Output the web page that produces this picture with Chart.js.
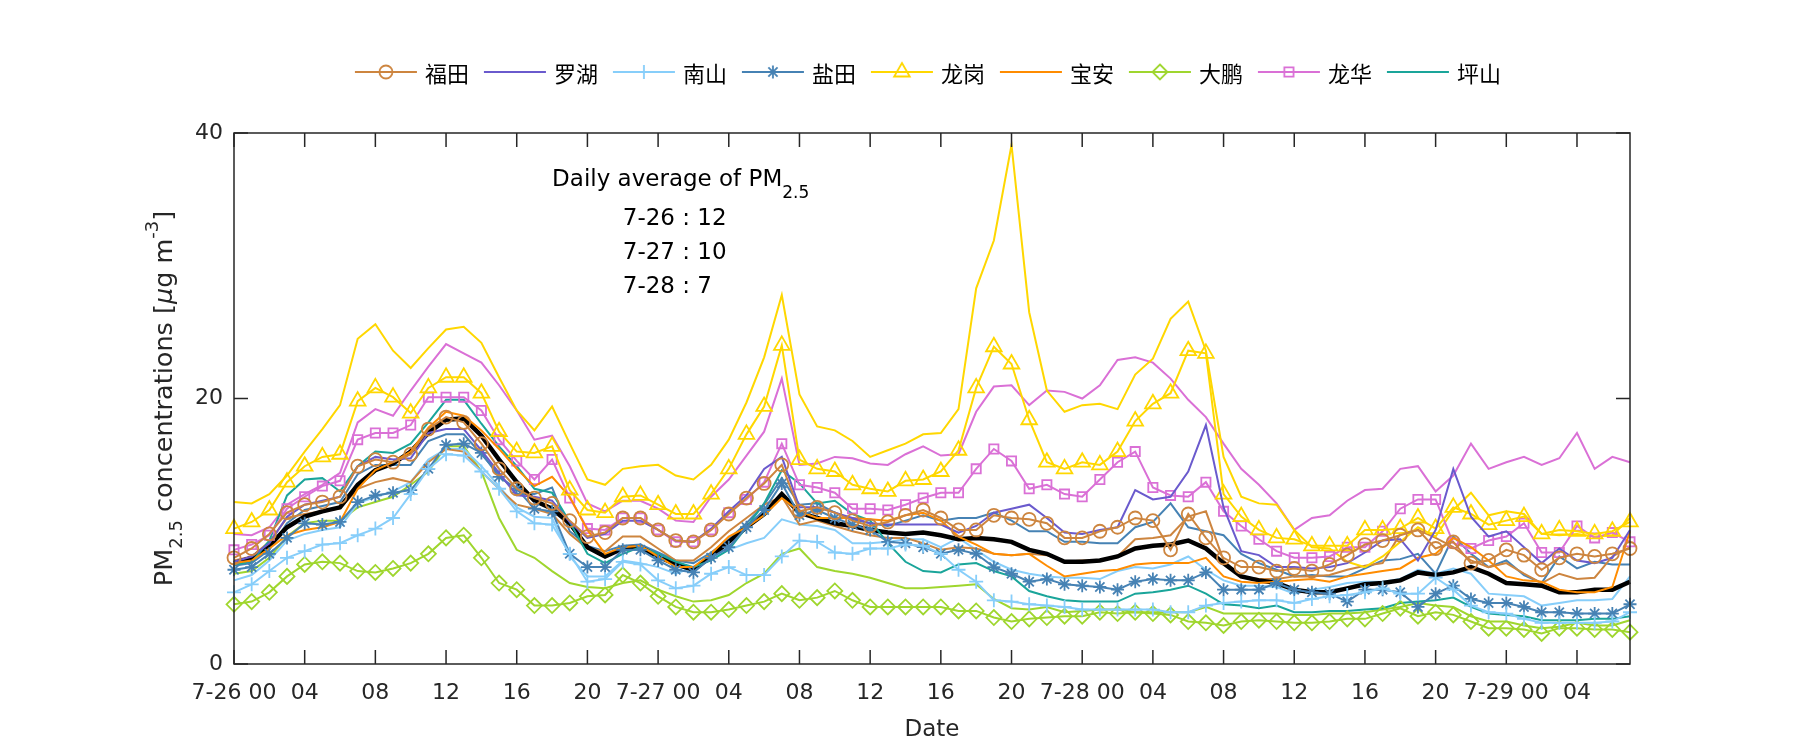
<!DOCTYPE html>
<html>
<head>
<meta charset="utf-8">
<script src="https://cdn.jsdelivr.net/npm/chart.js@4.4.0/dist/chart.umd.min.js"></script>
<style>
  body { margin: 0; background: #fff; }
  #wrap { position: relative; width: 1800px; height: 750px; }
  #legend {
    position: absolute; top: 60px; left: 928px; transform: translateX(-50%);
    display: flex; white-space: nowrap;
    font-family: "Noto Sans CJK SC", sans-serif; font-size: 22px; line-height: 24px; color: #000;
  }
  .item { display: flex; align-items: center; margin-right: 15px; }
  .item:last-child { margin-right: 0; }
  .item canvas { margin-right: 8px; }
</style>
</head>
<body>
<div id="wrap">
  <canvas id="chart" width="1800" height="750"></canvas>
  <div id="legend"></div>
</div>
<script>
// hourly PM2.5, 7-26 00 .. 7-29 07
const days = ['7-26', '7-27', '7-28', '7-29'];
const tickLabels = ['7-26 00', '04', '08', '12', '16', '20', '7-27 00', '04', '08', '12', '16', '20',
  '7-28 00', '04', '08', '12', '16', '20', '7-29 00', '04'];

const futian = [8.0, 8.7, 9.8, 11.4, 12.0, 12.2, 12.6, 14.9, 15.4, 15.2, 15.8, 17.7, 18.6, 18.2, 16.6, 14.7, 13.2,
  12.5, 12.1, 10.8, 9.6, 9.9, 11.0, 11.0, 10.1, 9.3, 9.2, 10.1, 11.3, 12.5, 13.6, 15.0, 11.5,
  11.8, 11.4, 10.8, 10.4, 10.7, 11.2, 11.6, 11.0, 10.1, 10.1, 11.2, 11.0, 10.9, 10.6, 9.5, 9.5,
  10.0, 10.3, 11.0, 10.8, 8.6, 11.3, 9.5, 8.0, 7.3, 7.3, 7.0, 7.2, 7.0, 7.5, 8.2, 9.0,
  9.3, 9.7, 10.1, 8.7, 9.2, 7.6, 7.8, 8.6, 8.2, 7.1, 8.0, 8.3, 8.1, 8.3, 8.7];
const luohu = [7.7, 8.1, 9.1, 11.1, 12.0, 12.3, 12.6, 14.9, 15.6, 15.4, 15.5, 17.4, 17.7, 17.7, 16.1, 14.4, 12.7,
  12.6, 12.3, 10.7, 9.5, 9.8, 10.8, 10.8, 10.1, 9.3, 9.2, 10.2, 11.5, 12.7, 14.7, 15.6, 11.8,
  11.8, 11.4, 11.0, 10.6, 10.5, 10.5, 10.5, 10.5, 9.9, 10.4, 11.4, 11.7, 12.0, 11.0, 9.9, 9.8,
  10.1, 10.3, 13.1, 12.4, 12.6, 14.5, 18.0, 11.8, 8.5, 8.2, 7.3, 7.3, 7.2, 7.3, 7.6, 8.4,
  9.3, 9.4, 7.8, 10.1, 14.7, 11.1, 9.6, 10.0, 8.8, 7.6, 8.7, 7.8, 7.6, 8.0, 10.1];
const nanshan = [5.4, 6.0, 7.0, 8.0, 8.5, 9.0, 9.1, 9.7, 10.2, 11.0, 12.8, 14.7, 15.8, 15.7, 14.5, 13.2, 11.5,
  10.6, 10.5, 8.3, 6.2, 6.4, 7.7, 7.5, 6.3, 5.7, 5.9, 6.8, 7.3, 6.7, 6.7, 8.1, 9.3,
  9.2, 8.4, 8.3, 8.7, 8.7, 9.0, 8.9, 8.3, 7.1, 6.2, 4.8, 4.7, 4.5, 4.4, 4.3, 4.1,
  4.1, 4.1, 4.1, 4.1, 3.9, 3.9, 4.4, 4.6, 4.7, 4.8, 4.8, 4.6, 4.9, 5.1, 5.2, 5.4,
  5.7, 5.3, 5.3, 6.5, 5.6, 4.4, 3.9, 3.8, 3.4, 3.1, 3.1, 3.1, 3.1, 3.2, 3.9];
const yantian = [7.1, 7.3, 8.3, 9.5, 10.6, 10.5, 10.7, 12.2, 12.7, 12.9, 13.1, 14.7, 16.5, 16.6, 15.9, 14.1, 13.2,
  11.7, 11.5, 8.3, 7.3, 7.3, 8.6, 8.6, 7.8, 7.1, 6.9, 8.0, 8.8, 10.3, 11.6, 13.6, 11.2,
  11.6, 11.0, 10.5, 10.1, 9.2, 9.1, 8.8, 8.3, 8.6, 8.3, 7.3, 6.8, 6.2, 6.4, 6.0, 5.9,
  5.8, 5.6, 6.2, 6.4, 6.3, 6.3, 6.9, 5.6, 5.6, 5.6, 6.1, 5.6, 5.4, 5.3, 4.7, 5.6,
  5.6, 5.4, 4.3, 5.3, 5.9, 4.9, 4.6, 4.6, 4.3, 3.9, 3.9, 3.8, 3.8, 3.8, 4.5];
const longgang = [10.2, 10.7, 11.6, 13.7, 14.9, 15.6, 15.8, 19.8, 20.8, 20.1, 18.9, 20.8, 21.6, 21.6, 20.4, 17.5, 16.0,
  15.9, 16.4, 13.1, 11.6, 11.4, 12.6, 12.7, 12.0, 11.3, 11.3, 12.8, 14.7, 17.3, 19.4, 24.0, 15.4,
  14.7, 14.5, 13.5, 13.2, 13.0, 13.8, 13.9, 14.5, 16.1, 20.8, 23.9, 22.6, 18.4, 15.2, 14.7, 15.2,
  15.0, 16.0, 18.3, 19.6, 20.4, 23.6, 23.4, 12.8, 11.1, 10.1, 9.5, 9.4, 8.9, 8.9, 8.9, 10.1,
  10.1, 10.2, 11.0, 10.2, 11.8, 11.3, 10.5, 10.8, 11.1, 9.8, 10.1, 10.0, 9.8, 10.0, 10.7];
const baoan = [7.6, 7.8, 8.7, 9.7, 10.1, 10.3, 10.7, 13.2, 14.6, 15.2, 16.0, 17.8, 19.0, 18.7, 17.6, 16.2, 14.7,
  13.4, 14.1, 12.6, 10.1, 8.3, 8.8, 8.9, 8.1, 7.3, 7.3, 8.3, 9.6, 10.3, 11.2, 12.5, 11.5,
  11.0, 11.0, 11.0, 10.9, 10.8, 11.2, 11.4, 10.8, 9.6, 9.0, 8.3, 8.2, 8.3, 7.4, 6.6, 6.8,
  7.0, 7.1, 7.5, 7.6, 7.6, 7.6, 8.0, 6.6, 6.2, 6.1, 6.2, 6.3, 6.4, 6.2, 6.6, 6.8,
  7.0, 7.2, 8.0, 8.3, 9.5, 8.8, 7.8, 6.6, 6.3, 6.2, 5.6, 5.4, 5.4, 5.8, 10.0];
const dapeng = [4.5, 4.7, 5.4, 6.6, 7.5, 7.7, 7.6, 7.0, 6.9, 7.2, 7.6, 8.3, 9.5, 9.7, 8.0, 6.1, 5.6,
  4.4, 4.4, 4.6, 5.1, 5.2, 6.7, 6.1, 5.1, 4.3, 3.9, 3.9, 4.1, 4.4, 4.7, 5.3, 4.8,
  5.0, 5.5, 4.8, 4.3, 4.3, 4.3, 4.3, 4.3, 4.0, 4.0, 3.5, 3.2, 3.4, 3.5, 3.6, 3.6,
  3.9, 3.8, 3.9, 3.8, 3.7, 3.2, 3.1, 2.9, 3.2, 3.3, 3.2, 3.1, 3.1, 3.2, 3.4, 3.4,
  3.8, 4.2, 3.6, 3.9, 3.7, 3.2, 2.7, 2.7, 2.6, 2.3, 2.7, 2.7, 2.6, 2.6, 2.4];
const longhua = [8.6, 9.0, 9.7, 11.7, 12.6, 13.4, 13.8, 16.9, 17.4, 17.4, 18.0, 20.1, 20.1, 20.1, 19.1, 16.9, 15.3,
  13.9, 15.4, 12.5, 10.2, 10.1, 11.0, 11.0, 10.1, 9.2, 9.2, 10.1, 11.4, 12.4, 13.7, 16.6, 13.5,
  13.3, 12.9, 11.7, 11.7, 11.6, 12.0, 12.5, 12.9, 12.9, 14.7, 16.2, 15.3, 13.2, 13.5, 12.8, 12.6,
  13.9, 15.2, 16.0, 13.3, 12.7, 12.6, 13.7, 11.5, 10.4, 9.4, 8.5, 8.0, 8.0, 8.1, 8.8, 8.8,
  10.0, 11.7, 12.4, 12.4, 9.1, 8.7, 9.3, 9.6, 10.6, 8.4, 8.4, 10.4, 9.5, 9.9, 9.2];
const pingshan = [7.5, 7.7, 9.3, 12.7, 13.9, 14.0, 13.0, 14.9, 16.0, 15.9, 16.6, 18.2, 19.9, 19.9, 18.1, 16.4, 14.9,
  13.2, 12.9, 10.7, 8.3, 7.6, 8.3, 8.8, 8.3, 7.7, 7.3, 7.8, 8.6, 10.3, 12.1, 14.6, 13.6,
  12.1, 12.3, 11.3, 10.8, 9.1, 7.7, 7.0, 6.9, 7.5, 7.6, 7.0, 6.6, 5.5, 5.1, 4.8, 4.7,
  4.7, 4.7, 5.3, 5.4, 5.6, 5.9, 5.3, 4.5, 4.4, 4.2, 4.4, 3.9, 3.9, 4.0, 4.0, 4.1,
  4.2, 4.6, 4.7, 4.8, 5.0, 4.3, 3.8, 3.7, 3.6, 3.3, 3.3, 3.3, 3.4, 3.4, 3.6];
const average = [7.6, 8.0, 8.9, 10.3, 11.1, 11.5, 11.8, 13.5, 14.6, 15.1, 16.0, 17.4, 18.4, 18.5, 17.2, 15.4, 13.7,
  12.3, 11.7, 10.6, 8.8, 8.1, 8.7, 8.8, 8.1, 7.5, 7.1, 8.1, 9.2, 10.3, 11.3, 12.8, 11.4,
  11.0, 10.6, 10.4, 10.1, 9.9, 9.8, 9.9, 9.7, 9.4, 9.5, 9.4, 9.2, 8.6, 8.3, 7.7, 7.7,
  7.8, 8.1, 8.7, 8.9, 9.0, 9.3, 8.7, 7.6, 6.6, 6.3, 6.1, 5.6, 5.4, 5.4, 5.7, 6.0,
  6.1, 6.3, 6.9, 6.7, 6.9, 7.3, 6.8, 6.1, 6.0, 5.9, 5.4, 5.4, 5.6, 5.6, 6.2];

// second, unmarked line of some districts
const longgangB = [12.2, 12.1, 12.8, 14.2, 16.0, 17.7, 19.5, 24.5, 25.6, 23.6, 22.3, 23.8, 25.2, 25.4, 24.2, 21.6, 19.1,
  17.6, 19.4, 16.6, 13.9, 13.5, 14.7, 14.9, 15.0, 14.2, 13.9, 15.0, 16.9, 19.7, 23.1, 27.8, 20.3,
  17.9, 17.6, 16.8, 15.6, 16.1, 16.6, 17.3, 17.4, 19.2, 28.3, 31.9, 39.1, 26.5, 20.6, 19.0, 19.5,
  19.6, 19.2, 21.8, 23.0, 26.0, 27.3, 23.6, 15.6, 12.6, 12.1, 12.0, 10.1, 8.8, 8.7, 7.7, 7.3,
  8.1, 9.2, 10.3, 9.6, 11.6, 12.9, 11.2, 11.5, 11.3, 9.8, 9.7, 9.8, 9.6, 9.7, 11.0];
const longhuaB = [9.8, 9.7, 10.3, 12.0, 12.8, 13.5, 14.4, 18.2, 19.2, 18.7, 20.6, 22.4, 24.1, 23.4, 22.7, 21.0, 19.1,
  16.9, 17.2, 14.9, 12.1, 11.5, 12.3, 12.3, 11.7, 10.8, 10.7, 12.6, 13.9, 15.7, 17.5, 21.5, 15.0,
  15.1, 15.6, 15.5, 15.1, 15.0, 15.8, 16.4, 15.7, 15.8, 19.0, 20.9, 21.0, 19.5, 20.6, 20.5, 20.0,
  21.0, 22.9, 23.1, 22.7, 21.5, 19.9, 18.6, 16.6, 14.7, 13.5, 12.1, 10.1, 11.0, 11.2, 12.3, 13.1,
  13.2, 14.7, 14.9, 13.0, 14.2, 16.6, 14.7, 15.2, 15.6, 15.0, 15.5, 17.4, 14.7, 15.6, 15.2];
const futianB = [7.8, 8.1, 9.2, 11.0, 11.3, 11.5, 11.7, 13.2, 13.7, 14.0, 13.7, 15.2, 16.2, 16.0, 14.5, 13.2, 12.0,
  11.7, 11.3, 9.8, 8.7, 8.5, 9.6, 9.6, 8.7, 7.8, 7.8, 8.8, 10.0, 11.0, 12.0, 12.6, 10.5,
  10.8, 10.4, 10.0, 9.7, 9.5, 9.5, 9.1, 8.6, 8.8, 8.7, 8.3, 8.2, 8.3, 8.2, 7.7, 7.8,
  7.8, 8.1, 9.4, 9.5, 9.7, 11.1, 11.5, 7.8, 6.6, 6.4, 6.4, 6.6, 6.6, 6.7, 7.1, 7.4,
  7.6, 9.8, 10.1, 9.5, 8.8, 7.8, 7.3, 7.6, 6.8, 6.1, 6.8, 6.4, 6.5, 8.1, 8.8];
const yantianB = [7.4, 7.6, 8.6, 10.6, 11.6, 11.9, 12.2, 14.3, 15.0, 15.0, 15.0, 16.8, 17.3, 17.3, 15.8, 14.3, 12.8,
  12.8, 13.3, 10.0, 8.9, 8.5, 8.9, 9.0, 8.4, 7.8, 7.6, 8.4, 9.4, 10.6, 12.0, 14.0, 12.0,
  12.1, 11.4, 10.9, 10.6, 10.4, 10.8, 11.2, 10.8, 11.0, 11.0, 11.4, 10.8, 10.0, 10.0, 9.2, 9.2,
  9.1, 9.1, 10.3, 10.7, 12.1, 10.3, 10.0, 9.7, 8.3, 7.6, 7.1, 6.6, 6.7, 6.6, 6.6, 7.2,
  7.8, 7.9, 8.3, 6.8, 9.6, 8.3, 7.3, 7.8, 6.7, 6.1, 8.1, 7.2, 7.7, 7.5, 7.5];
const nanshanB = [6.3, 6.7, 7.8, 9.3, 9.8, 10.1, 10.3, 12.1, 12.6, 13.0, 13.7, 15.4, 16.2, 16.2, 14.9, 13.4, 11.8,
  11.1, 11.0, 8.1, 6.6, 6.6, 7.8, 7.6, 7.3, 6.8, 7.3, 8.0, 8.6, 9.1, 9.5, 10.9, 10.5,
  10.4, 10.1, 9.1, 9.1, 9.2, 9.4, 9.4, 8.8, 9.5, 8.6, 7.7, 7.1, 6.8, 6.6, 6.5, 6.5,
  6.4, 7.0, 7.3, 7.2, 7.5, 8.1, 7.1, 6.3, 5.9, 5.9, 5.8, 5.3, 5.6, 5.8, 6.1, 6.2,
  6.2, 6.4, 7.1, 6.8, 7.2, 6.8, 5.3, 5.2, 5.1, 4.4, 4.6, 4.8, 4.8, 4.9, 6.6];
const dapengB = [6.8, 7.0, 8.0, 9.6, 10.6, 10.8, 10.8, 11.8, 12.2, 12.6, 13.5, 14.5, 16.4, 16.4, 14.5, 11.0, 8.6,
  8.0, 7.0, 6.1, 5.8, 5.7, 6.1, 6.3, 5.6, 5.1, 4.7, 4.8, 5.2, 6.1, 6.8, 8.3, 8.7,
  7.3, 7.0, 6.8, 6.5, 6.1, 5.7, 5.7, 5.8, 5.9, 6.0, 4.9, 4.2, 4.1, 4.3, 3.9, 4.0,
  4.1, 4.1, 3.9, 3.9, 3.9, 3.9, 4.3, 3.8, 3.8, 3.8, 3.8, 3.7, 3.7, 3.8, 3.8, 3.9,
  4.1, 4.3, 4.6, 4.4, 4.3, 3.6, 3.2, 3.2, 2.9, 2.7, 2.8, 3.1, 2.9, 2.9, 3.3];

const dailyDates = ['7-26', '7-27', '7-28'];
const dailyAvg = [12, 10, 7];

// category labels, one per hour
const timeLabels = [];
days.forEach(d => {
  for (let h = 0; h < 24 && timeLabels.length < futian.length; h++) {
    timeLabels.push(d + ' ' + String(h).padStart(2, '0'));
  }
});

const FONT = '"DejaVu Sans", sans-serif';
const AXIS = '#262626';

const districts = [
  { label: '福田', data: futian, color: '#CD853F', marker: 'circle', r: 6.5 },
  { label: '罗湖', data: luohu, color: '#6A5ACD' },
  { label: '南山', data: nanshan, color: '#87CEFA', marker: 'cross', r: 7 },
  { label: '盐田', data: yantian, color: '#4682B4', marker: 'star', r: 6.5 },
  { label: '龙岗', data: longgang, color: '#FFD700', marker: 'triangle', r: 9 },
  { label: '宝安', data: baoan, color: '#FF8C00' },
  { label: '大鹏', data: dapeng, color: '#9FD62E', marker: 'rectRot', r: 7.5 },
  { label: '龙华', data: longhua, color: '#DA70D6', marker: 'rect', r: 6.5 },
  { label: '坪山', data: pingshan, color: '#1AA59A' }
];
const extras = [
  { data: longgangB, color: '#FFD700' },
  { data: longhuaB, color: '#DA70D6' },
  { data: futianB, color: '#CD853F' },
  { data: yantianB, color: '#4682B4' },
  { data: nanshanB, color: '#87CEFA' },
  { data: dapengB, color: '#9FD62E' }
];

const datasets = [];
districts.forEach(d => datasets.push({
  label: d.label, data: d.data, order: 0, clip: false,
  borderColor: d.color, borderWidth: 2, tension: 0,
  pointStyle: d.marker || 'circle', pointRadius: d.marker ? d.r : 0,
  pointBorderColor: d.color, pointBackgroundColor: 'rgba(0,0,0,0)', pointBorderWidth: 1.8
}));
datasets.push({ label: 'avg', data: average, order: 1, borderColor: '#000', borderWidth: 4.5, pointRadius: 0, tension: 0 });
extras.forEach(e => datasets.push({
  label: '', data: e.data, order: 2, borderColor: e.color, borderWidth: 2, pointRadius: 0, tension: 0
}));

function drawMarker(g, style, x, y, r, color) {
  g.save();
  g.strokeStyle = color;
  g.lineWidth = 1.8;
  g.beginPath();
  if (style === 'circle') {
    g.arc(x, y, r, 0, Math.PI * 2);
  } else if (style === 'triangle') {
    for (let k = 0; k < 3; k++) {
      const a = k * 2 * Math.PI / 3;
      const px = x + Math.sin(a) * r, py = y - Math.cos(a) * r;
      k ? g.lineTo(px, py) : g.moveTo(px, py);
    }
    g.closePath();
  } else if (style === 'rect') {
    const s = r * Math.SQRT1_2;
    g.rect(x - s, y - s, 2 * s, 2 * s);
  } else if (style === 'rectRot') {
    g.moveTo(x, y - r); g.lineTo(x + r, y); g.lineTo(x, y + r); g.lineTo(x - r, y); g.closePath();
  } else {
    g.moveTo(x - r, y); g.lineTo(x + r, y); g.moveTo(x, y - r); g.lineTo(x, y + r);
    if (style === 'star') {
      const o = r * Math.SQRT1_2;
      g.moveTo(x - o, y - o); g.lineTo(x + o, y + o); g.moveTo(x - o, y + o); g.lineTo(x + o, y - o);
    }
  }
  g.stroke();
  g.restore();
}

// legend (line sample + marker + name)
const legendEl = document.getElementById('legend');
districts.forEach(d => {
  const item = document.createElement('div');
  item.className = 'item';
  const c = document.createElement('canvas');
  c.width = 62; c.height = 24;
  const g = c.getContext('2d');
  g.strokeStyle = d.color; g.lineWidth = 2;
  g.beginPath(); g.moveTo(0, 12); g.lineTo(62, 12); g.stroke();
  if (d.marker) drawMarker(g, d.marker, 31, 12, d.r, d.color);
  const s = document.createElement('span');
  s.textContent = d.label;
  item.append(c, s);
  legendEl.appendChild(item);
});

// text with sub/superscript parts, left-aligned at x, baseline y
function richWidth(ctx, parts) {
  return parts.reduce((w, p) => { ctx.font = p.font; return w + ctx.measureText(p.t).width; }, 0);
}
function drawRich(ctx, parts, x, y) {
  parts.forEach(p => {
    ctx.font = p.font;
    ctx.fillText(p.t, x, y + (p.dy || 0));
    x += ctx.measureText(p.t).width;
  });
}

const frame = {
  id: 'frame',
  afterDraw(chart) {
    const { ctx, chartArea: a, scales: { x, y } } = chart;
    ctx.save();
    ctx.strokeStyle = AXIS;
    ctx.lineWidth = 1.5;
    ctx.strokeRect(a.left, a.top, a.right - a.left, a.bottom - a.top);
    ctx.beginPath();
    for (let i = 0; i < timeLabels.length; i += 4) {
      const px = x.getPixelForValue(i);
      ctx.moveTo(px, a.bottom); ctx.lineTo(px, a.bottom - 14);
      ctx.moveTo(px, a.top); ctx.lineTo(px, a.top + 14);
    }
    y.ticks.forEach(t => {
      const py = y.getPixelForValue(t.value);
      ctx.moveTo(a.left, py); ctx.lineTo(a.left + 14, py);
      ctx.moveTo(a.right, py); ctx.lineTo(a.right - 14, py);
    });
    ctx.stroke();

    // y-axis title
    const big = '25.5px ' + FONT, small = '18px ' + FONT;
    const yParts = [
      { t: 'PM', font: big }, { t: '2.5', font: small, dy: 10 },
      { t: ' concentrations [', font: big }, { t: 'μ', font: 'italic ' + big },
      { t: 'g m', font: big }, { t: '-3', font: small, dy: -14 }, { t: ']', font: big }
    ];
    ctx.fillStyle = AXIS;
    ctx.textBaseline = 'alphabetic';
    ctx.textAlign = 'left';
    ctx.save();
    ctx.translate(172, (a.top + a.bottom) / 2);
    ctx.rotate(-Math.PI / 2);
    drawRich(ctx, yParts, -richWidth(ctx, yParts) / 2, 0);
    ctx.restore();

    // daily averages note
    ctx.fillStyle = '#000';
    const nBig = '23px ' + FONT;
    const x0 = x.getPixelForValue(18), x1 = x.getPixelForValue(22);
    const y0 = y.getPixelForValue(36);
    drawRich(ctx, [{ t: 'Daily average of PM', font: nBig }, { t: '2.5', font: '17px ' + FONT, dy: 12 }], x0, y0);
    ctx.font = nBig;
    dailyDates.forEach((d, i) => ctx.fillText(d + ' : ' + dailyAvg[i], x1, y0 + 39 + i * 34));
    ctx.restore();
  }
};

new Chart(document.getElementById('chart'), {
  type: 'line',
  data: { labels: timeLabels, datasets },
  options: {
    responsive: false,
    animation: false,
    devicePixelRatio: 1,
    layout: { padding: { top: 133, right: 170, left: 0, bottom: 0 } },
    plugins: { legend: { display: false }, tooltip: { enabled: false } },
    scales: {
      x: {
        type: 'category',
        offset: false,
        grid: { display: false, drawTicks: false },
        border: { display: false },
        ticks: {
          autoSkip: false, maxRotation: 0, minRotation: 0, padding: 16,
          color: AXIS, font: { family: FONT, size: 22 },
          callback: (v, i) => (i % 4 === 0 ? tickLabels[i / 4] : '')
        },
        title: { display: true, text: 'Date', color: AXIS, font: { family: FONT, size: 23 }, padding: { top: 0, bottom: 6 } },
        afterFit: s => { s.height = 86; s.paddingLeft = 0; s.paddingRight = 0; }
      },
      y: {
        min: 0, max: 40,
        grid: { display: false, drawTicks: false },
        border: { display: false },
        ticks: { stepSize: 20, padding: 11, color: AXIS, font: { family: FONT, size: 22 } },
        afterFit: s => { s.width = 234; s.paddingTop = 0; s.paddingBottom = 0; }
      }
    }
  },
  plugins: [frame]
});
</script>
</body>
</html>
